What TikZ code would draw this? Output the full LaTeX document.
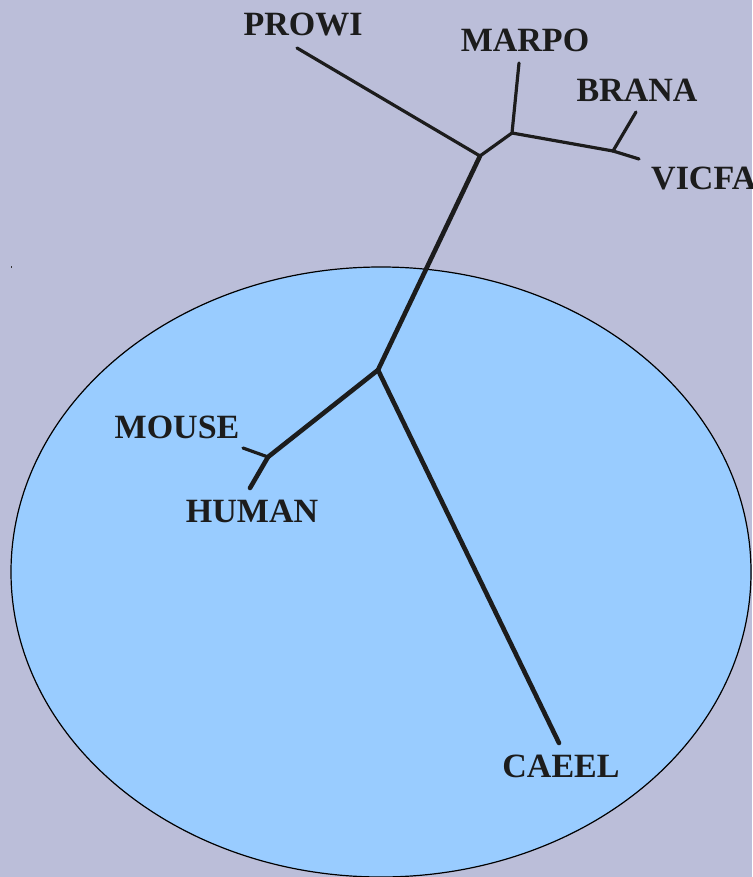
\documentclass[tikz,border=0pt]{standalone}
\usepackage{fontspec}
\setmainfont{Liberation Serif}
\definecolor{bgcol}{RGB}{187,190,217}
\definecolor{ellcol}{RGB}{153,204,255}
\definecolor{inkcol}{RGB}{28,28,28}
\begin{document}
\begin{tikzpicture}[x=1pt,y=-1pt,
  lbl/.style={font=\fontsize{34}{36}\selectfont\bfseries, text=inkcol, inner sep=0pt},
  thinbr/.style={draw=inkcol, line width=3.2pt, line cap=round, line join=round},
  thickbr/.style={draw=inkcol, line width=4.6pt, line cap=round, line join=round}]
\useasboundingbox (0,0) rectangle (752,877);
\fill[bgcol] (0,0) rectangle (752,877);
\begin{scope}
\clip (0,0) rectangle (752,877);
\draw[fill=ellcol, draw=black, line width=1.2pt] (381,572) ellipse [x radius=370, y radius=305];
\end{scope}
\fill[black!80] (10.5,265.5) rectangle (12,268);
% tree coordinates
\coordinate (tPROWI) at (297,48);
\coordinate (jA) at (480,156);
\coordinate (jB) at (512,133);
\coordinate (tMARPO) at (519,63);
\coordinate (jC) at (613,151);
\coordinate (tBRANA) at (636,112);
\coordinate (tVICFA) at (639,159);
\coordinate (jD) at (378,370);
\coordinate (jE) at (268,457);
\coordinate (tMOUSE) at (243,448);
\coordinate (tHUMAN) at (250,488);
\coordinate (tCAEEL) at (559,743);
% branches
\draw[thinbr] (tPROWI) -- (jA);
\draw[thinbr] (jA) -- (jB);
\draw[thinbr] (jB) -- (tMARPO);
\draw[thinbr] (jB) -- (jC);
\draw[thinbr] (jC) -- (tBRANA);
\draw[thinbr] (jC) -- (tVICFA);
\draw[thickbr] (jA) -- (jD);
\draw[thickbr] (jD) -- (jE);
\draw[thinbr] (jE) -- (tMOUSE);
\draw[thickbr] (jE) -- (tHUMAN);
\draw[thickbr] (jD) -- (tCAEEL);
% labels
\node[lbl, anchor=base] (lPROWI) at (303,36) {PROWI};
\node[lbl, anchor=base] (lMARPO) at (525,52) {MARPO};
\node[lbl, anchor=base] (lBRANA) at (637,102) {BRANA};
\node[lbl, anchor=base west] (lVICFA) at (651,190) {VICFA};
\node[lbl, anchor=base] (lMOUSE) at (177,438) {MOUSE};
\node[lbl, anchor=base] (lHUMAN) at (252,522) {HUMAN};
\node[lbl, anchor=base] (lCAEEL) at (561,777) {CAEEL};
\end{tikzpicture}
\end{document}
